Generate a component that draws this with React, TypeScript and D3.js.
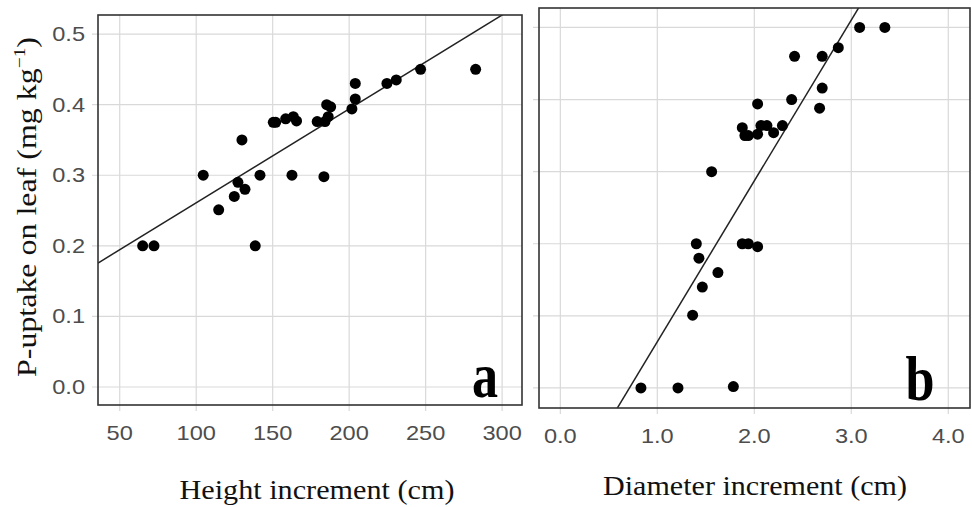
import React from 'react';
import * as d3 from 'd3';

// Panel a: height increment (cm) vs P-uptake on leaf
const heightX = [65, 72.4, 138.6, 104.6, 114.7, 124.9, 127.3, 131.9, 129.9, 141.7, 150.4, 152, 158.5, 163.5, 165.6, 162.6, 179.1, 183.5, 184.2, 186.3, 185.3, 187.9, 201.8, 204, 204, 224.7, 230.8, 246.7, 282.7];
const heightY = [0.2, 0.2, 0.2, 0.3, 0.251, 0.27, 0.29, 0.28, 0.35, 0.3, 0.375, 0.375, 0.38, 0.383, 0.377, 0.3, 0.376, 0.298, 0.376, 0.383, 0.4, 0.397, 0.394, 0.408, 0.43, 0.43, 0.435, 0.45, 0.45];
const heightFit = { intercept: 0.128, slope: 0.00133 };
const heightTicks = [50, 100, 150, 200, 250, 300];

// Panel b: diameter increment (cm) vs P-uptake on leaf
const diamX = [3.086, 3.346, 2.866, 2.415, 2.7, 2.7, 2.385, 2.673, 2.034, 1.876, 1.903, 1.938, 2.034, 2.068, 2.13, 2.199, 2.29, 1.56, 1.402, 1.876, 1.938, 2.034, 1.429, 1.625, 1.464, 1.364, 0.831, 1.213, 1.784];
const diamY = [0.5, 0.5, 0.472, 0.46, 0.46, 0.416, 0.4, 0.388, 0.394, 0.361, 0.35, 0.35, 0.352, 0.364, 0.364, 0.354, 0.364, 0.3, 0.2, 0.2, 0.2, 0.196, 0.18, 0.16, 0.14, 0.101, 0, 0, 0.002];
const diamFit = { intercept: -0.159, slope: 0.2231 };
const diamTicks = [0, 1, 2, 3, 4];

const yTicks = [0, 0.1, 0.2, 0.3, 0.4, 0.5];

const serif = '"Liberation Serif", "DejaVu Serif", serif';
const sans = '"Liberation Sans", Arial, sans-serif';

type PanelProps = {
  id: string;
  xs: number[];
  ys: number[];
  fit: { intercept: number; slope: number };
  xDomain: [number, number];
  yDomain: [number, number];
  box: { left: number; right: number; top: number; bottom: number };
  xTicks: number[];
  xFmt: (v: number) => string;
  showYLabels: boolean;
  tag: string;
  tagPos: [number, number];
  xTitle: string;
  xTitlePos: [number, number];
  xTitleLen: number;
};

// tick labels in the original are a little wider than Arial
const TickText = ({ x, y, anchor, children }: { x: number; y: number; anchor: string; children: React.ReactNode }) => (
  <text transform={`translate(${x},${y}) scale(1.18,1)`} textAnchor={anchor} fontFamily={sans} fontSize={20} fill="#4d4d4d">
    {children}
  </text>
);

const Panel = (p: PanelProps) => {
  const x = d3.scaleLinear().domain(p.xDomain).range([p.box.left, p.box.right]);
  const y = d3.scaleLinear().domain(p.yDomain).range([p.box.bottom, p.box.top]);
  const line = d3.line<number>().x(v => x(v)).y(v => y(p.fit.intercept + p.fit.slope * v));
  const clip = `clip-${p.id}`;
  const w = p.box.right - p.box.left;
  const h = p.box.bottom - p.box.top;

  return (
    <g>
      <defs>
        <clipPath id={clip}>
          <rect x={p.box.left} y={p.box.top} width={w} height={h} />
        </clipPath>
      </defs>
      <rect x={p.box.left} y={p.box.top} width={w} height={h} fill="#fff" />
      {/* grid + ticks */}
      {p.xTicks.map(t => (
        <line key={'gx' + t} x1={x(t)} x2={x(t)} y1={p.box.top} y2={p.box.bottom + 6} stroke="#d9d9d9" strokeWidth={1.2} />
      ))}
      {yTicks.map(t => (
        <line key={'gy' + t} x1={p.box.left - 6} x2={p.box.right} y1={y(t)} y2={y(t)} stroke="#d9d9d9" strokeWidth={1.2} />
      ))}
      {/* fit line */}
      <path d={line(p.xDomain) || ''} fill="none" stroke="#222" strokeWidth={1.5} clipPath={`url(#${clip})`} />
      {/* points */}
      {p.xs.map((v, i) => (
        <circle key={i} cx={x(v)} cy={y(p.ys[i])} r={5.5} fill="#000" />
      ))}
      {/* frame */}
      <rect x={p.box.left} y={p.box.top} width={w} height={h} fill="none" stroke="#333" strokeWidth={1.6} />
      {/* tick labels */}
      {p.xTicks.map(t => (
        <TickText key={'lx' + t} x={x(t)} y={p.box.bottom + 35} anchor="middle">{p.xFmt(t)}</TickText>
      ))}
      {p.showYLabels && yTicks.map(t => (
        <TickText key={'ly' + t} x={p.box.left - 13} y={y(t) + 7} anchor="end">{d3.format('.1f')(t)}</TickText>
      ))}
      <text transform={`translate(${p.tagPos[0]},${p.tagPos[1]}) scale(0.9,1.08)`} textAnchor="middle" fontFamily={serif} fontWeight="bold" fontSize={58} fill="#000">
        {p.tag}
      </text>
      <text x={p.xTitlePos[0]} y={p.xTitlePos[1]} textAnchor="middle" fontFamily={serif} fontSize={28} fill="#111"
        textLength={p.xTitleLen} lengthAdjust="spacingAndGlyphs">
        {p.xTitle}
      </text>
    </g>
  );
};

const App = () => (
  <svg width={972} height={507} style={{ position: 'absolute', left: 0, top: 0, background: '#fff' }}>
    <Panel
      id="a"
      xs={heightX}
      ys={heightY}
      fit={heightFit}
      xDomain={[35.8, 313]}
      yDomain={[-0.0255, 0.527]}
      box={{ left: 98, right: 522, top: 15, bottom: 405 }}
      xTicks={heightTicks}
      xFmt={v => String(v)}
      showYLabels={true}
      tag="a"
      tagPos={[485, 397]}
      xTitle="Height increment (cm)"
      xTitlePos={[317, 499]}
      xTitleLen={275}
    />
    <Panel
      id="b"
      xs={diamX}
      ys={diamY}
      fit={diamFit}
      xDomain={[-0.22, 4.224]}
      yDomain={[-0.0278, 0.527]}
      box={{ left: 539, right: 970, top: 8, bottom: 408 }}
      xTicks={diamTicks}
      xFmt={d3.format('.1f')}
      showYLabels={false}
      tag="b"
      tagPos={[920, 400]}
      xTitle="Diameter increment (cm)"
      xTitlePos={[755, 495]}
      xTitleLen={304}
    />
    <text transform="translate(36,207) rotate(-90)" textAnchor="middle" fontFamily={serif} fontSize={28} fill="#111"
      textLength={340} lengthAdjust="spacingAndGlyphs">
      P-uptake on leaf (mg kg<tspan dy={-11} fontSize={17}>−1</tspan><tspan dy={11}>)</tspan>
    </text>
  </svg>
);

export default App;
